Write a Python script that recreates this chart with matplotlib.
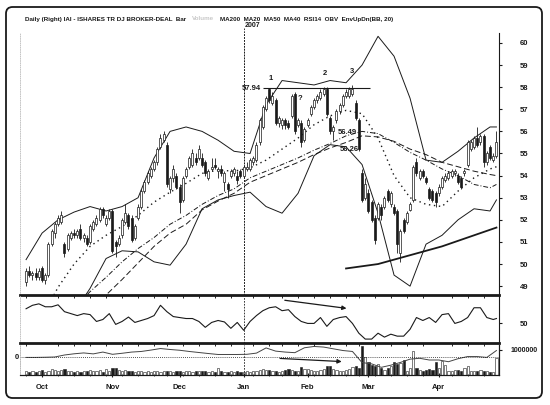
import matplotlib.pyplot as plt
import matplotlib.transforms as mtransforms
from matplotlib.patches import FancyBboxPatch
import numpy as np
import pandas as pd

plt.rcParams["font.family"] = ["Liberation Sans Narrow", "Liberation Sans", "DejaVu Sans"]

INK = "#1a1a1a"

# trading days shown (Sep 25 2006 .. Apr 27 2007)
holidays = pd.to_datetime(["2006-11-23", "2006-12-25", "2007-01-01", "2007-01-02",
                           "2007-01-15", "2007-02-19", "2007-04-06"])
dates = pd.bdate_range("2006-09-25", "2007-04-27")
dates = dates[~dates.isin(holidays)]

opens = [
    49.2, 49.7, 49.5, 49.6, 49.4, 49.8, 49.3, 49.5, 50.9, 51.4,
    51.8, 51.9, 50.9, 50.7, 51.2, 51.4, 51.3, 51.6, 51.2, 51.2,
    51.0, 51.6, 51.8, 52.0, 52.5, 51.8, 52.1, 52.4, 51.0, 50.9,
    51.3, 51.9, 52.2, 52.1, 51.2, 52.1, 52.6, 53.3, 53.7, 54.0,
    54.3, 54.6, 55.3, 55.6, 55.4, 53.4, 53.9, 54.0, 53.5, 52.9,
    54.0, 54.4, 54.5, 54.8, 54.8, 54.8, 54.6, 53.9, 54.3, 54.5,
    54.2, 54.3, 53.7, 53.6, 54.0, 54.1, 54.0, 54.2, 54.0, 54.3,
    54.3, 54.6, 54.7, 55.5, 56.2, 57.0, 57.9, 57.3, 57.4, 56.4,
    56.3, 56.5, 56.4, 56.7, 57.7, 56.3, 56.4, 55.6, 56.3, 56.8,
    57.1, 57.4, 57.5, 57.7, 57.9, 56.6, 56.0, 56.5, 56.9, 57.2,
    57.6, 57.6, 57.7, 57.3, 56.5, 54.1, 53.0, 53.2, 52.8, 52.1,
    52.1, 52.6, 52.6, 53.3, 52.7, 52.6, 52.4, 50.5, 52.0, 51.9,
    52.45, 52.9, 54.6, 53.9, 54.2, 53.9, 53.4, 53.3, 53.2, 53.2,
    53.5, 53.8, 53.9, 54.0, 54.1, 54.0, 53.9, 54.1, 54.5, 55.2,
    55.3, 55.7, 55.5, 55.8, 54.6, 55.3, 54.7, 54.9,
]
highs = [
    49.8, 49.9, 49.7, 49.8, 49.8, 49.9, 49.6, 51.0, 51.6, 51.9,
    52.2, 52.4, 51.0, 51.4, 51.5, 51.6, 51.6, 51.8, 51.4, 51.3,
    51.8, 52.0, 52.2, 52.6, 52.6, 52.2, 52.5, 52.5, 51.1, 51.3,
    52.1, 52.7, 52.3, 52.2, 51.8, 52.7, 53.4, 53.8, 54.2, 54.4,
    54.7, 55.3, 55.9, 56.0, 55.5, 54.0, 54.5, 54.1, 53.6, 54.0,
    54.4, 54.9, 55.2, 55.0, 55.4, 55.0, 54.7, 54.3, 54.8, 54.8,
    54.4, 54.5, 54.2, 53.7, 54.3, 54.4, 54.2, 54.3, 54.5, 54.6,
    54.8, 54.9, 55.5, 56.6, 57.2, 57.6, 57.94, 57.8, 57.5, 56.7,
    56.6, 56.6, 56.5, 57.7, 57.8, 56.6, 56.5, 56.2, 56.6, 57.2,
    57.5, 57.7, 57.9, 58.0, 58.0, 56.7, 56.3, 57.0, 57.3, 57.7,
    57.9, 58.0, 58.1, 57.4, 56.6, 54.3, 53.9, 53.4, 52.9, 52.2,
    52.8, 52.7, 53.1, 53.4, 53.3, 52.7, 52.5, 51.6, 52.1, 52.4,
    52.8, 54.5, 54.8, 54.3, 54.3, 54.0, 53.5, 53.4, 53.3, 53.6,
    54.0, 54.1, 54.2, 54.3, 54.3, 54.1, 54.0, 54.3, 55.6, 55.6,
    55.8, 56.2, 55.9, 55.9, 55.1, 55.4, 55.0, 56.0,
]
lows = [
    49.0, 49.4, 49.3, 49.3, 49.3, 49.2, 49.1, 49.4, 50.8, 51.2,
    51.7, 51.8, 50.3, 50.6, 51.1, 51.2, 51.2, 51.1, 51.0, 50.8,
    50.9, 51.5, 51.7, 51.9, 52.1, 51.7, 52.0, 50.5, 50.3, 50.8,
    51.2, 51.8, 51.6, 51.0, 51.1, 52.0, 52.5, 53.2, 53.6, 53.9,
    54.2, 54.5, 55.2, 55.5, 53.5, 53.2, 53.7, 53.4, 52.3, 52.8,
    53.9, 54.3, 54.4, 54.5, 54.7, 54.4, 54.0, 53.8, 54.2, 54.3,
    53.9, 54.0, 53.3, 53.0, 53.9, 54.0, 53.6, 53.9, 53.9, 54.2,
    54.2, 54.5, 54.6, 55.4, 56.1, 56.9, 57.3, 57.2, 56.3, 56.2,
    56.1, 56.1, 56.1, 56.6, 55.9, 56.2, 55.3, 55.5, 56.2, 56.7,
    57.0, 57.3, 57.4, 57.6, 56.7, 55.9, 55.6, 56.4, 56.8, 57.1,
    57.5, 57.5, 57.6, 56.5, 55.1, 52.8, 52.9, 52.3, 51.9, 50.9,
    52.0, 52.0, 52.5, 52.8, 52.6, 52.2, 50.5, 50.1, 51.4, 51.8,
    52.4, 52.8, 54.0, 53.8, 53.9, 53.6, 52.9, 52.8, 52.6, 53.1,
    53.4, 53.7, 53.8, 53.9, 54.0, 53.6, 53.4, 54.0, 54.4, 55.1,
    55.2, 55.3, 55.4, 54.4, 54.5, 54.7, 54.6, 54.8,
]
closes = [
    49.7, 49.5, 49.6, 49.4, 49.7, 49.3, 49.5, 50.9, 51.5, 51.8,
    52.1, 52.2, 50.5, 51.3, 51.4, 51.3, 51.5, 51.2, 51.3, 50.9,
    51.7, 51.9, 52.1, 52.5, 52.2, 52.1, 52.4, 50.6, 50.8, 51.2,
    52.0, 52.3, 51.7, 51.1, 51.7, 52.6, 53.3, 53.7, 54.1, 54.3,
    54.6, 55.2, 55.7, 55.9, 53.6, 53.9, 54.3, 53.5, 52.8, 53.9,
    54.3, 54.8, 55.0, 54.6, 55.2, 54.5, 54.1, 54.2, 54.4, 54.4,
    54.3, 54.1, 54.1, 53.4, 54.2, 54.3, 53.8, 54.0, 54.4, 54.4,
    54.7, 54.8, 55.4, 56.5, 57.1, 57.5, 57.4, 57.6, 56.4, 56.6,
    56.5, 56.3, 56.2, 57.6, 56.0, 56.5, 55.5, 56.1, 56.5, 57.1,
    57.4, 57.6, 57.8, 57.9, 56.8, 56.0, 56.2, 56.9, 57.2, 57.6,
    57.8, 57.9, 57.9, 56.6, 55.2, 52.9, 53.6, 52.4, 52.0, 51.1,
    52.7, 52.2, 53.0, 52.9, 53.2, 52.3, 50.9, 51.5, 51.5, 52.3,
    52.7, 54.4, 54.1, 54.2, 54.0, 53.7, 53.0, 52.9, 52.8, 53.5,
    53.9, 54.0, 54.1, 54.2, 54.2, 53.7, 53.5, 54.2, 55.5, 55.5,
    55.7, 55.4, 55.8, 54.6, 55.0, 54.8, 54.9, 55.5,
]
# volume, thousands of shares
volumes = [
    150, 120, 180, 130, 160, 200, 140, 150, 230, 210,
    160, 190, 260, 170, 150, 140, 160, 130, 150, 180,
    200, 170, 150, 220, 140, 250, 160, 270, 280, 190,
    150, 210, 170, 160, 120, 150, 180, 140, 160, 130,
    150, 170, 140, 160, 180, 150, 130, 170, 150, 140,
    160, 150, 140, 170, 180, 150, 160, 140, 170, 130,
    280, 150, 120, 140, 160, 130, 150, 140, 110, 160,
    140, 150, 180, 200, 260, 210, 190, 160, 150, 140,
    180, 200, 240, 200, 170, 160, 330, 230, 260, 200,
    170, 180, 200, 230, 370, 360, 260, 200, 180, 150,
    220, 260, 330, 370, 300, 1150, 740, 530, 410, 370,
    450, 290, 200, 300, 370, 530, 450, 490, 610, 165,
    290, 980, 290, 200, 180, 220, 240, 200, 530, 290,
    570, 420, 165, 180, 200, 190, 170, 290, 370, 160,
    170, 150, 200, 160, 150, 130, 140, 700,
]

# overlays read every 5th session (plus the last one)
upper_band = [50.2, 51.4, 52.0, 52.35, 52.6, 52.4, 52.6, 53.0, 54.8, 56.0,
              56.2, 56.0, 55.6, 55.1, 55.0, 57.2, 58.3, 58.2, 58.1, 58.3,
              58.2, 59.0, 60.3, 59.4, 57.5, 54.7, 54.6, 55.1, 55.7, 56.2, 56.2]
lower_band = [np.nan, np.nan, np.nan, 47.8, 48.9, 50.25, 50.6, 50.55, 50.1, 49.95,
              50.9, 52.5, 52.9, 53.1, 53.25, 52.6, 52.3, 53.2, 54.9, 55.4,
              55.3, 54.5, 52.3, 49.5, 49.0, 50.9, 51.3, 52.0, 52.5, 52.4, 52.9]
ma20 = [np.nan, 47.6, 48.95, 50.0, 50.8, 51.3, 51.7, 52.2, 52.8, 53.25,
        53.65, 54.1, 54.25, 54.2, 54.35, 54.7, 55.2, 55.7, 56.3, 56.7,
        56.95, 56.8, 55.7, 54.0, 53.0, 52.7, 52.6, 53.3, 53.9, 54.3, 54.4]
ma40 = [np.nan, np.nan, np.nan, 48.0, 48.75, 49.4, 50.1, 50.7, 51.2, 51.8,
        52.2, 52.7, 53.1, 53.4, 53.9, 54.2, 54.5, 54.8, 55.15, 55.45,
        55.8, 56.0, 55.9, 55.5, 55.05, 54.7, 54.3, 54.0, 53.6, 53.45, 53.6]
ma50 = [np.nan, np.nan, np.nan, np.nan, 47.8, 48.6, 49.3, 50.05, 50.8, 51.4,
        51.8, 52.45, 52.85, 53.2, 53.7, 54.0, 54.3, 54.6, 54.95, 55.25,
        55.5, 55.8, 55.75, 55.55, 55.2, 54.95, 54.6, 54.4, 54.2, 54.05, 54.0]
ma200 = [np.nan] * 20 + [49.8, 49.9, 50.0, 50.2, 50.4, 50.6, 50.8, 51.05, 51.3, 51.55, 51.65]

# RSI(14) read every 2nd session (plus the last one)
rsi = [65, 68.5, 70, 67, 67, 69, 62, 60, 58, 60,
       59, 52, 54, 60, 49, 52, 56.5, 51, 53, 55,
       58, 68.5, 62, 57, 56, 55, 55, 52, 46, 51,
       53, 51.5, 45, 51, 43, 52, 58, 63, 66, 67,
       63, 64, 57, 52, 50, 50, 56, 47, 54, 56,
       57, 50, 40, 34, 34, 40, 36, 39, 37, 37,
       44, 56, 53, 56, 51, 59, 60, 50, 52, 56,
       66, 66, 56, 54, 55]

# on-balance volume (millions) read every 3rd session
obv = [0.0, 0.0, 0.02, 0.05, 0.28, 0.42, 0.52, 0.41, 0.62, 0.36,
       0.48, 0.62, 0.69, 0.85, 1.03, 0.92, 0.83, 0.69, 0.57, 0.45,
       0.34, 0.34, 0.34, 0.36, 0.5, 1.1, 0.73, 0.62, 0.55, 1.12,
       1.27, 1.2, 1.0, 0.8, 0.69, -0.6, -0.75, -1.15, -0.9, -0.58,
       -0.2, -0.1, -0.3, -0.3, -0.5, -0.15, 0.1, 0.1, 0.0, 0.8]

price_ticks = list(range(49, 61))
month_names = ["Oct", "Nov", "Dec", "Jan", "Feb", "Mar", "Apr"]
header_parts = [
    ("Daily (Right) IAI - ISHARES TR DJ BROKER-DEAL  Bar", INK),
    ("Volume", "#c8c8c8"),
    ("MA200  MA20  MA50  MA40  RSI14  OBV  EnvUpDn(BB, 20)", INK),
]

n = len(dates)
x = np.arange(n)
o, h, lo, c = map(np.array, (opens, highs, lows, closes))
up = c >= o
band_x = np.r_[np.arange(0, n, 5), n - 1]
rsi_x = np.r_[np.arange(0, n, 2), n - 1]
obv_x = np.arange(0, n, 3)

month_pos = [int(np.flatnonzero((dates.month == m.month) & (dates.year == m.year))[0])
             for m in pd.to_datetime(["2006-10-01", "2006-11-01", "2006-12-01", "2007-01-01",
                                      "2007-02-01", "2007-03-01", "2007-04-01"])]
week_pos = np.flatnonzero(np.r_[True, np.diff(dates.dayofweek) < 0])
jan_pos = month_pos[3]

W, H = 550, 405
fig = plt.figure(figsize=(W / 100, H / 100), dpi=100)
left, width = 20 / W, 479 / W
ax = fig.add_axes([left, 1 - 295 / H, width, 262 / H])
ax_rsi = fig.add_axes([left, 1 - 343 / H, width, 47 / H], sharex=ax)
ax_vol = fig.add_axes([left, 1 - 375 / H, width, 30 / H], sharex=ax)
ax_obv = ax_vol.twinx()

# candles
ax.vlines(x, lo, h, color=INK, lw=0.6, zorder=2)
ax.bar(x, np.maximum(np.abs(c - o), 0.03), bottom=np.minimum(o, c), width=0.62,
       color=np.where(up, "white", INK), edgecolor=INK, linewidth=0.5, zorder=3)

# bands and averages
ax.plot(band_x, upper_band, color=INK, lw=0.7)
ax.plot(band_x, lower_band, color=INK, lw=0.7)
ax.plot(band_x, ma20, color=INK, lw=1.0, ls=(0, (1, 2.6)))
ax.plot(band_x, ma40, color=INK, lw=0.7, ls=(0, (5, 2, 1, 2)))
ax.plot(band_x, ma50, color=INK, lw=0.7, ls=(0, (6, 3)))
ax.plot(band_x, ma200, color=INK, lw=1.3)

ax.set_xlim(-1.9, n - 0.2)
ax.set_ylim(48.6, 60.45)
ax.yaxis.tick_right()
ax.set_yticks(price_ticks)
ax.tick_params(axis="y", labelsize=5.5, length=2, pad=13, colors=INK)
ax.tick_params(axis="x", bottom=False, labelbottom=False)
for lbl in ax.get_yticklabels():
    lbl.set_fontweight("bold")

ann = dict(fontsize=5.5, fontweight="bold", color=INK)
ax.hlines(57.94, 74, 107.5, color=INK, lw=0.8)
ax.text(73.5, 57.94, "57.94", ha="right", va="center", **ann)
ax.text(76.5, 58.25, "1", ha="center", va="bottom", **ann)
ax.text(93.5, 58.45, "2", ha="center", va="bottom", **ann)
ax.text(102.0, 58.55, "3", ha="center", va="bottom", **ann)
ax.text(85.6, 57.5, "?", ha="center", va="center", **ann)
ax.text(103.5, 55.95, "56.49", ha="right", va="center", **ann)
ax.text(104.0, 55.2, "56.26", ha="right", va="center", **ann)

# RSI
ax_rsi.plot(rsi_x, rsi, color=INK, lw=0.8)
ax_rsi.set_ylim(30, 78)
ax_rsi.yaxis.tick_right()
ax_rsi.set_yticks([50])
ax_rsi.tick_params(axis="y", labelsize=5.5, length=2, pad=13, colors=INK)
ax_rsi.tick_params(axis="x", bottom=False, labelbottom=False)
ax_rsi.get_yticklabels()[0].set_fontweight("bold")
ax_rsi.annotate("", xy=(101, 65), xytext=(80, 74),
                arrowprops=dict(arrowstyle="-|>", lw=0.9, color=INK, mutation_scale=6))

# volume + OBV
vol_sh = np.array(volumes) * 1000
ax_vol.bar(x, vol_sh, width=0.7, color=np.where(up, "white", INK), edgecolor=INK, linewidth=0.4)
ax_vol.set_ylim(0, 1.2e6)
ax_vol.yaxis.tick_right()
ax_vol.set_yticks([1e6])
ax_vol.set_yticklabels(["1000000"], fontsize=5, fontweight="bold")
ax_vol.tick_params(axis="y", length=2, pad=6, colors=INK)
ax_vol.set_xticks(month_pos)
ax_vol.set_xticklabels(month_names, fontsize=5.5, fontweight="bold")
ax_vol.set_xticks(week_pos, minor=True)
ax_vol.tick_params(axis="x", which="major", length=3, direction="inout", pad=5, colors=INK)
ax_vol.tick_params(axis="x", which="minor", length=2, direction="inout", colors=INK)

ax_obv.plot(obv_x, obv, color="#444444", lw=0.7)
ax_obv.axhline(0, color=INK, lw=0.6, ls=(0, (1, 1.5)))
ax_obv.set_ylim(-2.04, 1.44)
ax_obv.set_yticks([])
ax_obv.text(-0.002, 0, "0", transform=ax_obv.get_yaxis_transform(), ha="right", va="center", **ann)
ax_obv.annotate("", xy=(99.5, -0.5), xytext=(78.5, -0.1),
                arrowprops=dict(arrowstyle="-|>", lw=0.9, color=INK, mutation_scale=6))

# frames
for a, bottom_lw in ((ax, 2.0), (ax_rsi, 2.0), (ax_vol, 0.8), (ax_obv, 0.8)):
    a.spines["top"].set_visible(False)
    a.spines["left"].set_linestyle(":")
    a.spines["left"].set_color("#bbbbbb")
    a.spines["left"].set_linewidth(0.6)
    a.spines["right"].set_color(INK)
    a.spines["right"].set_linewidth(0.8)
    a.spines["bottom"].set_linewidth(bottom_lw)
    a.spines["bottom"].set_color(INK)
    a.patch.set_alpha(0)

for a in (ax, ax_rsi, ax_vol):
    a.axvline(jan_pos, color=INK, lw=0.6, ls=(0, (2, 1.5)), zorder=1)
ax.axvline(jan_pos, ymin=0, ymax=1.02, color=INK, lw=0.6, ls=(0, (2, 1.5)), clip_on=False)
ax.text(jan_pos + 0.3, 1.015, "2007", transform=mtransforms.blended_transform_factory(ax.transData, ax.transAxes),
        ha="left", va="bottom", fontsize=5, fontweight="bold", color=INK)

# header line, laid out left to right
renderer = fig.canvas.get_renderer()
tx, ty = 25.0, H - 19
for text, col in header_parts:
    t = fig.text(tx / W, ty / H, text, fontsize=4.5, fontweight="bold", color=col, va="center")
    tx = t.get_window_extent(renderer).x1 + 6

border = FancyBboxPatch((6 / W, 7 / H), 536 / W, 391 / H, boxstyle="round,pad=0,rounding_size=0.012",
                        transform=fig.transFigure, fill=False, lw=1.3, ec=INK, mutation_aspect=W / H)
fig.add_artist(border)

fig.savefig("out.png", dpi=100, facecolor="white")
